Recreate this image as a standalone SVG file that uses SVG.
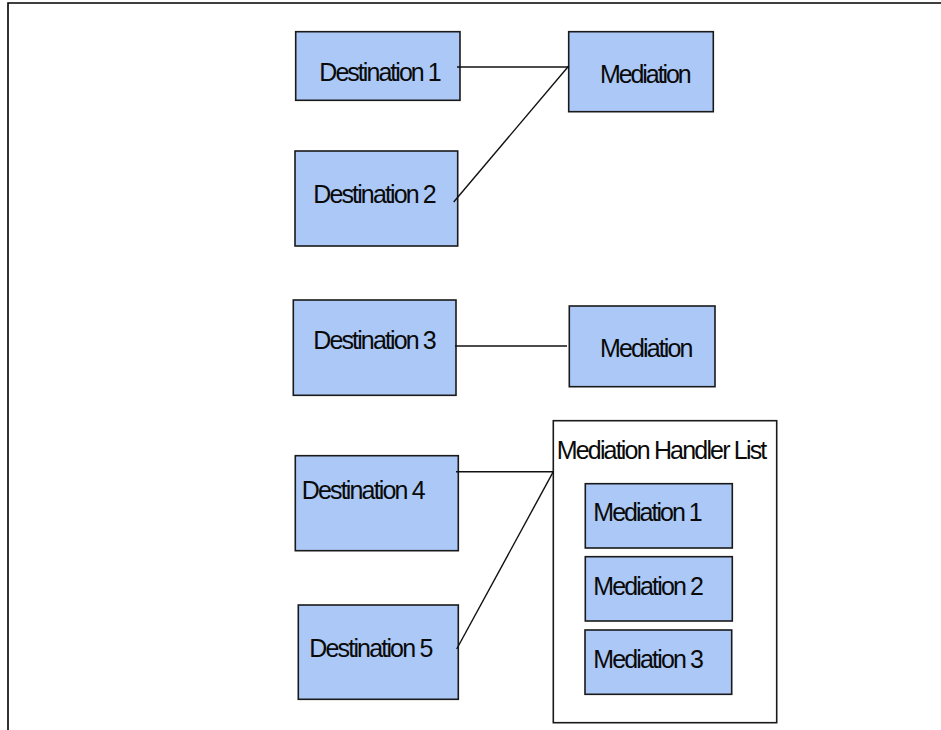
<svg xmlns="http://www.w3.org/2000/svg" width="941" height="730" viewBox="0 0 941 730">
<style>
.box{fill:#abc8f6;stroke:#1a1a1a;stroke-width:1.6}
.cont{fill:#ffffff;stroke:#1a1a1a;stroke-width:1.6}
.lbl{font-family:"Liberation Sans",Arial,sans-serif;font-size:25px;fill:#0a0a0a}
.conn line{stroke:#111111;stroke-width:1.4}
.frame{stroke:#000000;stroke-width:1.6;fill:none}
</style>
<rect x="0" y="0" width="941" height="730" fill="#ffffff"/>
<path class="frame" d="M8,730 V3 H941"/>
<g id="dest1"><rect class="box" x="295.7" y="31.7" width="164.3" height="68.6"/><text class="lbl" x="319.3" y="81" textLength="122.4" lengthAdjust="spacing">Destination 1</text></g>
<g id="mediation-a"><rect class="box" x="568.7" y="31.7" width="144.6" height="80"/><text class="lbl" x="600" y="83.3" textLength="91.7" lengthAdjust="spacing">Mediation</text></g>
<g id="dest2"><rect class="box" x="295" y="151" width="162.7" height="95"/><text class="lbl" x="313.3" y="202.7" textLength="123.4" lengthAdjust="spacing">Destination 2</text></g>
<g id="dest3"><rect class="box" x="293.3" y="300" width="162.7" height="95.3"/><text class="lbl" x="313.3" y="349.3" textLength="123.4" lengthAdjust="spacing">Destination 3</text></g>
<g id="mediation-b"><rect class="box" x="569.3" y="306" width="145.7" height="80.7"/><text class="lbl" x="600" y="357.3" textLength="93.3" lengthAdjust="spacing">Mediation</text></g>
<g id="dest4"><rect class="box" x="295.3" y="455.7" width="163" height="95"/><text class="lbl" x="301.7" y="499.3" textLength="124" lengthAdjust="spacing">Destination 4</text></g>
<g id="dest5"><rect class="box" x="298.3" y="605" width="160" height="94.3"/><text class="lbl" x="309.3" y="656.7" textLength="124" lengthAdjust="spacing">Destination 5</text></g>
<g id="handler-list"><rect class="cont" x="553.3" y="420.7" width="223.4" height="302"/><text class="lbl" x="556.7" y="459.3" textLength="210.6" lengthAdjust="spacing">Mediation Handler List</text></g>
<g id="mediation1"><rect class="box" x="585.3" y="483.7" width="147" height="64.3"/><text class="lbl" x="593.3" y="521" textLength="109.4" lengthAdjust="spacing">Mediation 1</text></g>
<g id="mediation2"><rect class="box" x="585.3" y="556.7" width="147" height="64.3"/><text class="lbl" x="593.3" y="595" textLength="110.7" lengthAdjust="spacing">Mediation 2</text></g>
<g id="mediation3"><rect class="box" x="585" y="630" width="146.7" height="64.3"/><text class="lbl" x="593.3" y="667.7" textLength="110.7" lengthAdjust="spacing">Mediation 3</text></g>
<g id="connectors" class="conn">
<line x1="457" y1="67" x2="568.7" y2="67"/>
<line x1="453.7" y1="202" x2="568.7" y2="66"/>
<line x1="455" y1="346" x2="567" y2="346"/>
<line x1="456" y1="471.7" x2="553.3" y2="471.7"/>
<line x1="456.7" y1="649" x2="553.3" y2="471.7"/>
</g>
</svg>
